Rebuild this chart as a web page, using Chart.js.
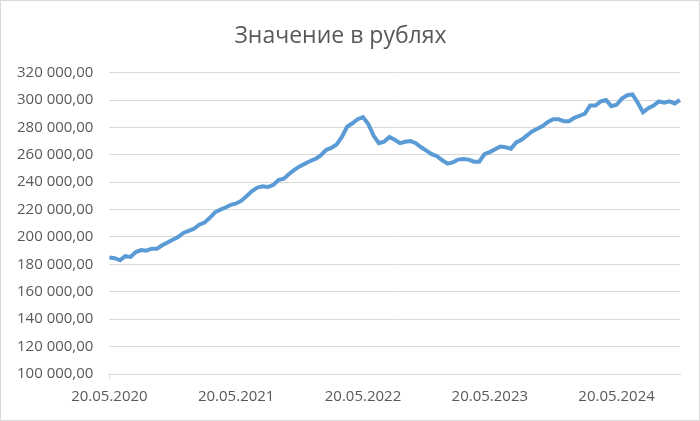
<!DOCTYPE html>
<html>
<head>
<meta charset="utf-8">
<script src="https://cdn.jsdelivr.net/npm/chart.js@4"></script>
<style>
  body { margin: 0; background: #fff; }
  #wrap { width: 700px; height: 421px; box-sizing: border-box; border: 1px solid #d9d9d9; }
</style>
</head>
<body>
<div id="wrap"><canvas id="myChart1" width="698" height="419"></canvas></div>
<script>
// semi-monthly dates starting 20.05.2020 (20th and 5th of each month)
const dates = [];
{
  let y = 2020, m = 5, d = 20;
  for (let i = 0; i < 109; i++) {
    dates.push(String(d).padStart(2, "0") + "." + String(m).padStart(2, "0") + "." + y);
    if (d === 20) { d = 5; m++; if (m > 12) { m = 1; y++; } } else { d = 20; }
  }
}

// values in thousands of rubles
const valuesK = [
  185, 184.5, 183, 186, 185.5, 189, 190.5, 190, 191.5, 191.5,
  194, 196, 198, 200, 203, 204.5, 206, 209, 210.5, 214,
  218, 220, 221.5, 223.5, 224.5, 226.5, 230, 233.5, 236, 237,
  236.5, 238, 241.5, 242.5, 246, 249, 251.5, 253.5, 255.5, 257,
  259.5, 263.5, 265, 267.5, 273, 280.5, 283, 286, 287.5, 282.5,
  274, 268.5, 269.5, 273, 271, 268.5, 269.5, 270, 268.5, 265.5,
  263, 260.5, 259, 256, 253.5, 254.5, 256.5, 257, 256.5, 255,
  255, 260.5, 262, 264, 266, 265.5, 264.5, 269, 271, 274,
  277, 279, 281, 284, 286, 286, 284.5, 284.5, 287, 288.5,
  290, 296, 296, 299, 300, 295.5, 296.5, 301, 303.5, 304,
  298, 291, 294, 296, 299, 298, 299, 297.5, 300
];
const values = valuesK.map(v => v * 1000);

const yMin = 100000, yMax = 320000, yStep = 20000;
const tickEvery = 24; // one label per year

function fmtRub(v) {
  const s = Math.round(v).toString().replace(/\B(?=(\d{3})+(?!\d))/g, " ");
  return s + ",00";
}

const ctx = document.getElementById("myChart1").getContext("2d");
const myChart = new Chart(ctx, {
  type: "line",
  data: {
    labels: dates,
    datasets: [{
      label: "Значение в рублях",
      data: values,
      borderColor: "#5B9BD5",
      borderWidth: 4,
      pointRadius: 0,
      tension: 0,
    }],
  },
  options: {
    responsive: false,
    animation: false,
    layout: { padding: { left: 0, right: 19, top: 8, bottom: 5 } },
    plugins: {
      legend: { display: false },
      tooltip: { enabled: false },
      title: {
        display: true,
        text: "Значение в рублях",
        color: "#595959",
        font: { family: "Open Sans", size: 23, weight: "normal" },
        padding: { top: 14, bottom: 22 },
      },
    },
    scales: {
      x: {
        offset: false,
        border: { color: "#d9d9d9" },
        grid: {
          drawOnChartArea: false,
          tickLength: 5,
          color: c => (c.index % tickEvery === 0 ? "#d9d9d9" : "transparent"),
        },
        ticks: {
          autoSkip: false,
          maxRotation: 0,
          color: "#595959",
          font: { family: "Open Sans", size: 15 },
          padding: 9,
          callback: function (val, i) { return i % tickEvery === 0 ? dates[i] : null; },
        },
      },
      y: {
        min: yMin,
        max: yMax,
        border: { display: false },
        grid: { color: "#d9d9d9", drawTicks: false },
        ticks: {
          stepSize: yStep,
          color: "#595959",
          font: { family: "Open Sans", size: 15 },
          padding: 16,
          callback: v => fmtRub(v),
        },
      },
    },
  },
});
</script>
</body>
</html>
